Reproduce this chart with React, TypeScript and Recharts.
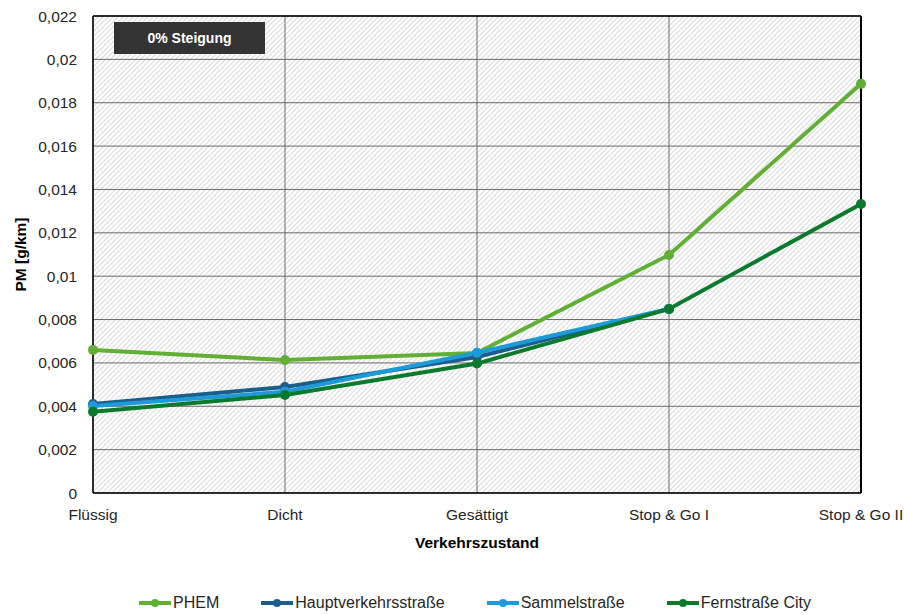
import React from 'react';
import { LineChart, Line, XAxis, YAxis, CartesianGrid, Legend, ReferenceLine } from 'recharts';

const categories = ['Flüssig', 'Dicht', 'Gesättigt', 'Stop & Go I', 'Stop & Go II'];
const phem = [0.0066, 0.00613, 0.00646, 0.01098, 0.01887];
const hauptverkehrsstrasse = [0.0041, 0.00489, 0.00627, 0.00849, null];
const sammelstrasse = [0.00401, 0.00467, 0.00647, 0.00849, null];
const fernstrasseCity = [0.00375, 0.00452, 0.00597, 0.00849, 0.01333];
const yTicks = [0, 0.002, 0.004, 0.006, 0.008, 0.01, 0.012, 0.014, 0.016, 0.018, 0.02, 0.022];

const seriesInfo = [
  { key: 'PHEM', color: '#62AF36' },
  { key: 'Hauptverkehrsstraße', color: '#1B5E8C' },
  { key: 'Sammelstraße', color: '#1D9BD8' },
  { key: 'Fernstraße City', color: '#0B7A2C' },
];

const data = categories.map((c, i) => ({
  name: c,
  PHEM: phem[i],
  'Hauptverkehrsstraße': hauptverkehrsstrasse[i],
  'Sammelstraße': sammelstrasse[i],
  'Fernstraße City': fernstrasseCity[i],
}));

const FONT = 'Liberation Sans, Arial, sans-serif';

const fmt = (v: number) => {
  if (v === 0) return '0';
  return parseFloat(v.toFixed(4)).toString().replace('.', ',');
};

const LegendContent = () => (
  <div style={{ boxSizing: 'border-box', display: 'flex', justifyContent: 'center', alignItems: 'flex-start', paddingTop: 38, paddingLeft: 89, height: 62, fontFamily: FONT, fontSize: 16, color: '#262626' }}>
    {seriesInfo.map((s, i) => (
      <div key={s.key} style={{ display: 'flex', alignItems: 'center', height: 24, marginLeft: i === 0 ? 0 : 42 }}>
        <svg width={32} height={12} style={{ marginRight: 2 }}>
          <line x1={0} y1={6} x2={32} y2={6} stroke={s.color} strokeWidth={4} />
          <circle cx={16} cy={6} r={4} fill={s.color} />
        </svg>
        <span>{s.key}</span>
      </div>
    ))}
  </div>
);

export default function App() {
  return (
    <div style={{ position: 'absolute', left: 0, top: 0, width: 904, height: 615, background: '#fff' }}>
      <LineChart width={904} height={615} data={data} margin={{ top: 16, right: 43, left: 0, bottom: 0 }}>
        <defs>
          <pattern id="hatch" patternUnits="userSpaceOnUse" width="5" height="5">
            <rect width="5" height="5" fill="#ffffff" />
            <path d="M-1,1 l2,-2 M0,5 l5,-5 M4,6 l2,-2" stroke="#dadada" strokeWidth="1.1" />
          </pattern>
        </defs>
        <CartesianGrid stroke="#6a6a6a" strokeWidth={1} fill="url(#hatch)" />
        <XAxis
          dataKey="name"
          padding={{ left: 0, right: 0 }}
          axisLine={{ stroke: '#000', strokeWidth: 1.5 }}
          tickLine={false}
          tick={{ fill: '#262626', fontSize: 15.5, fontFamily: FONT }}
          tickMargin={10}
          height={60}
          interval={0}
          label={{ value: 'Verkehrszustand', position: 'insideBottom', offset: 5, fill: '#000', fontSize: 15.5, fontWeight: 'bold', fontFamily: FONT }}
        />
        <YAxis
          domain={[0, 0.022]}
          ticks={yTicks}
          tickFormatter={fmt}
          width={93}
          axisLine={{ stroke: '#000', strokeWidth: 1.5 }}
          tickLine={false}
          tickMargin={10}
          tick={{ fill: '#262626', fontSize: 15.5, fontFamily: FONT }}
          label={{ value: 'PM [g/km]', angle: -90, position: 'insideLeft', offset: 20, fill: '#000', fontSize: 15.5, fontWeight: 'bold', fontFamily: FONT, style: { textAnchor: 'middle' } }}
        />
        <ReferenceLine y={0.022} stroke="#000" strokeWidth={1.5} />
        <ReferenceLine x="Stop & Go II" stroke="#000" strokeWidth={2} />
        <Legend verticalAlign="bottom" content={<LegendContent />} />
        {seriesInfo.map((s) => (
          <Line
            key={s.key}
            type="linear"
            dataKey={s.key}
            stroke={s.color}
            strokeWidth={4}
            dot={{ r: 5, fill: s.color, stroke: s.color, strokeWidth: 0 }}
            activeDot={false}
            isAnimationActive={false}
          />
        ))}
      </LineChart>
      <div style={{ position: 'absolute', left: 114, top: 22, width: 151, height: 32, background: '#333333', color: '#fff', fontFamily: FONT, fontWeight: 'bold', fontSize: 14, display: 'flex', alignItems: 'center', justifyContent: 'center' }}>
        0% Steigung
      </div>
    </div>
  );
}
